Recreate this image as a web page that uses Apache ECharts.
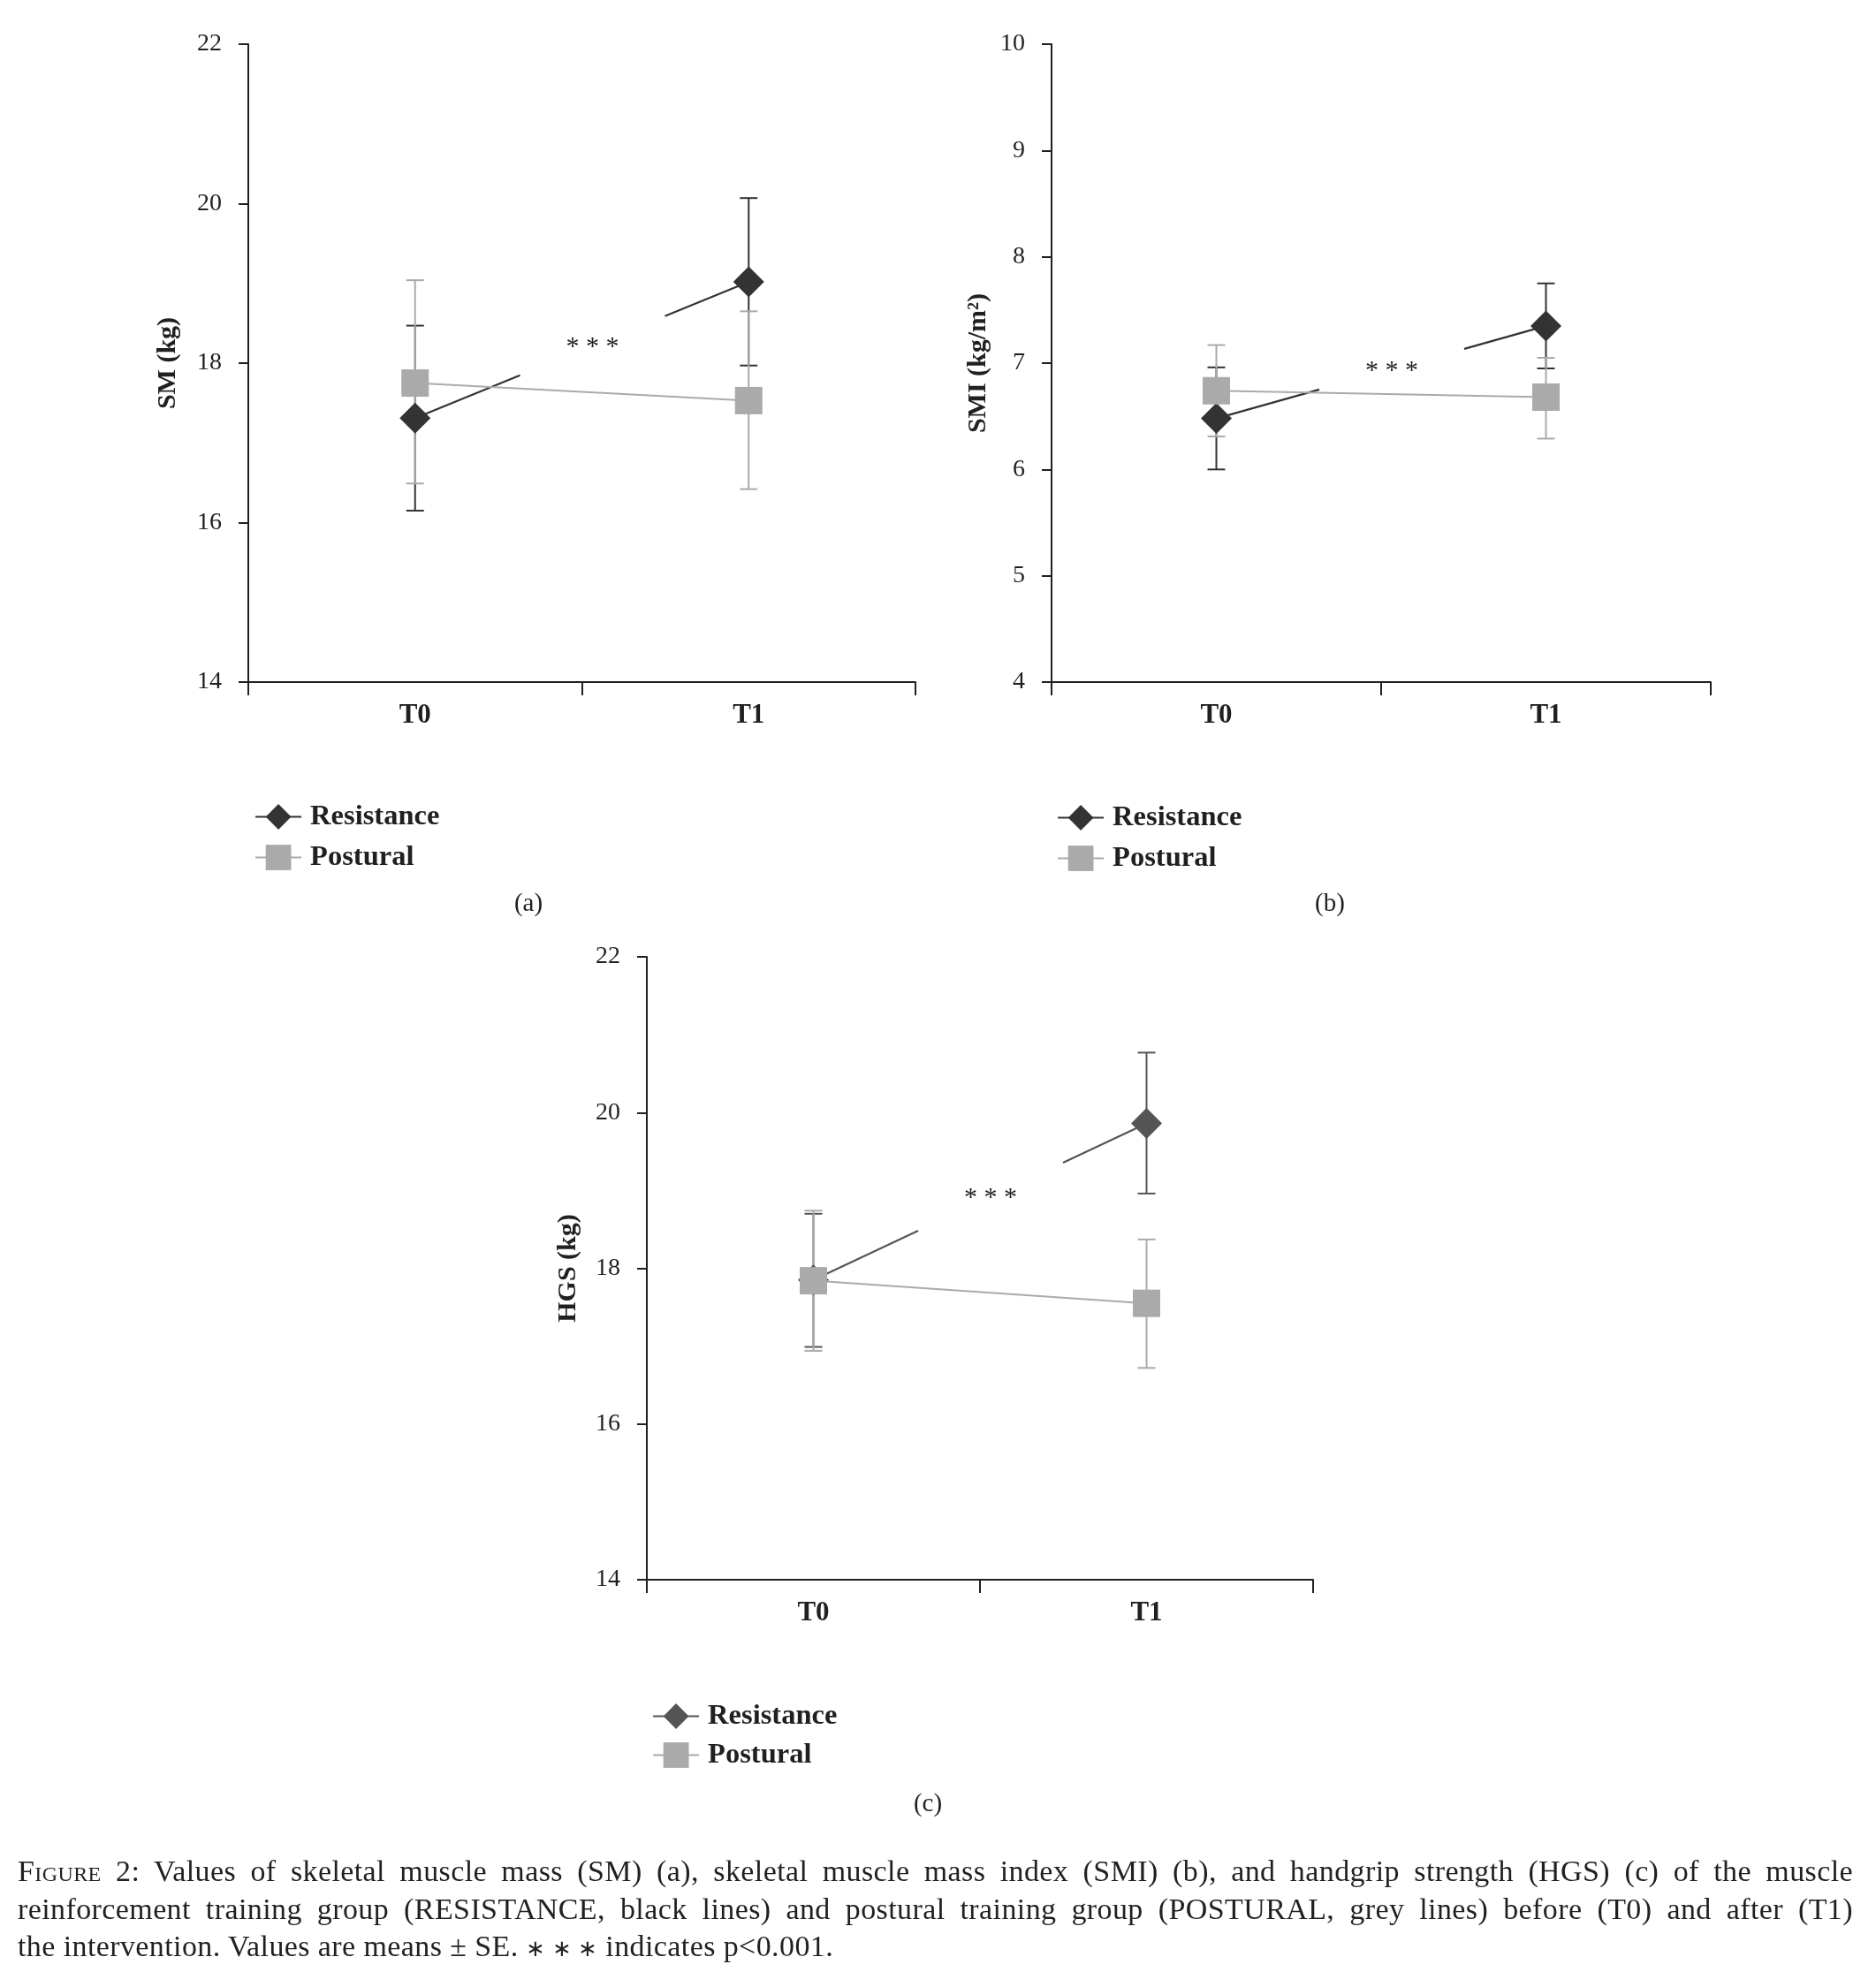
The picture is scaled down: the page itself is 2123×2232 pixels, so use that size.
<!DOCTYPE html>
<html><head><meta charset="utf-8">
<script src="https://cdn.jsdelivr.net/npm/echarts@6/dist/echarts.min.js"></script>
<style>
html,body{margin:0;padding:0;background:#fff;}
#chart{position:absolute;left:0;top:0;width:2123px;height:2232px;}
#caption{position:absolute;left:20px;top:2097px;width:2077px;font-family:"Liberation Serif",serif;font-size:34px;line-height:42.5px;color:#231f20;letter-spacing:0.4px;}
#caption .j{text-align:justify;text-align-last:justify;white-space:nowrap;}
#caption .sc{font-variant:small-caps;}
#caption .ast{font-size:26px;}
</style></head>
<body>
<div id="chart"></div>
<div id="caption">
<div class="j"><span class="sc">Figure</span> 2: Values of skeletal muscle mass (SM) (a), skeletal muscle mass index (SMI) (b), and handgrip strength (HGS) (c) of the muscle</div>
<div class="j">reinforcement training group (RESISTANCE, black lines) and postural training group (POSTURAL, grey lines) before (T0) and after (T1)</div>
<div>the intervention. Values are means ± SE. <span class="ast">∗ ∗ ∗</span> indicates p&lt;0.001.</div>
</div>
<script>
// ---- data ----
const categories = ['T0', 'T1'];
const seriesNames = ['Resistance', 'Postural'];

const smResistance = [17.31, 19.02];
const smResistanceLow = [16.15, 17.97];
const smResistanceHigh = [18.47, 20.07];
const smPostural = [17.75, 17.53];
const smPosturalLow = [16.49, 16.42];
const smPosturalHigh = [19.04, 18.65];

const smiResistance = [6.48, 7.35];
const smiResistanceLow = [6.00, 6.95];
const smiResistanceHigh = [6.96, 7.75];
const smiPostural = [6.74, 6.68];
const smiPosturalLow = [6.31, 6.29];
const smiPosturalHigh = [7.17, 7.05];

const hgsResistance = [17.85, 19.86];
const hgsResistanceLow = [16.99, 18.96];
const hgsResistanceHigh = [18.70, 20.77];
const hgsPostural = [17.84, 17.55];
const hgsPosturalLow = [16.94, 16.72];
const hgsPosturalHigh = [18.74, 18.37];

const smTicks = [14, 16, 18, 20, 22];
const smiTicks = [4, 5, 6, 7, 8, 9, 10];
const hgsTicks = [14, 16, 18, 20, 22];

const axisTitles = ['SM (kg)', 'SMI (kg/m²)', 'HGS (kg)'];
const panelLabels = ['(a)', '(b)', '(c)'];
const significance = '* * *';

// ---- styling ----
const FONT = '"Liberation Serif", "DejaVu Serif", serif';
const TXT = '#231f20';
const GREY = '#aaaaaa';

const panels = [
  { grid: { left: 281, top: 50, width: 755, height: 722 }, ticks: smTicks, nameGap: 76,
    res: smResistance, resLo: smResistanceLow, resHi: smResistanceHigh,
    pos: smPostural, posLo: smPosturalLow, posHi: smPosturalHigh,
    resColor: '#333333', legend: { left: 283, top: 903, gap: 13 }, label: [598, 1023] },
  { grid: { left: 1190, top: 50, width: 746, height: 722 }, ticks: smiTicks, nameGap: 68,
    res: smiResistance, resLo: smiResistanceLow, resHi: smiResistanceHigh,
    pos: smiPostural, posLo: smiPosturalLow, posHi: smiPosturalHigh,
    resColor: '#333333', legend: { left: 1191, top: 904, gap: 13 }, label: [1505, 1023] },
  { grid: { left: 732, top: 1083, width: 754, height: 705 }, ticks: hgsTicks, nameGap: 74,
    res: hgsResistance, resLo: hgsResistanceLow, resHi: hgsResistanceHigh,
    pos: hgsPostural, posLo: hgsPosturalLow, posHi: hgsPosturalHigh,
    resColor: '#555555', legend: { left: 733, top: 1921, gap: 11 }, label: [1050, 2042] }
];

function errorBarRenderer(color) {
  return function (params, api) {
    const x = api.value(0);
    const top = api.coord([x, api.value(2)]);
    const bot = api.coord([x, api.value(1)]);
    const hw = 10;
    const st = { stroke: color, lineWidth: 2 };
    return { type: 'group', children: [
      { type: 'line', shape: { x1: top[0], y1: top[1], x2: bot[0], y2: bot[1] }, style: st },
      { type: 'line', shape: { x1: top[0] - hw, y1: top[1], x2: top[0] + hw, y2: top[1] }, style: st },
      { type: 'line', shape: { x1: bot[0] - hw, y1: bot[1], x2: bot[0] + hw, y2: bot[1] }, style: st }
    ] };
  };
}

function gapLineRenderer(color) {
  return function (params, api) {
    const p0 = api.coord([api.value(0), api.value(1)]);
    const p1 = api.coord([api.value(2), api.value(3)]);
    const yAt = (x) => p0[1] + (p1[1] - p0[1]) * (x - p0[0]) / (p1[0] - p0[0]);
    const cx = (p0[0] + p1[0]) / 2 + 12;
    const g0 = cx - 82, g1 = cx + 82;
    const st = { stroke: color, lineWidth: 2.2 };
    return { type: 'group', children: [
      { type: 'line', shape: { x1: p0[0], y1: p0[1], x2: g0, y2: yAt(g0) }, style: st },
      { type: 'line', shape: { x1: g1, y1: yAt(g1), x2: p1[0], y2: p1[1] }, style: st },
      { type: 'text', x: cx, y: yAt(cx) + 2, style: { text: significance, fontFamily: FONT, fontSize: 30,
        fill: TXT, align: 'center', verticalAlign: 'middle' } }
    ] };
  };
}

const option = { animation: false, backgroundColor: '#ffffff',
  grid: [], xAxis: [], yAxis: [], series: [], legend: [], graphic: [] };

panels.forEach((p, i) => {
  option.grid.push(Object.assign({ containLabel: false }, p.grid));
  option.xAxis.push({
    gridIndex: i, type: 'category', data: categories, boundaryGap: true,
    axisLine: { show: true, onZero: false, lineStyle: { color: TXT, width: 2 } },
    axisTick: { show: true, alignWithLabel: false, length: 15, lineStyle: { color: TXT, width: 2 } },
    axisLabel: { fontFamily: FONT, fontSize: 31, fontWeight: 'bold', color: TXT, margin: 22 },
    splitLine: { show: false }
  });
  option.yAxis.push({
    gridIndex: i, type: 'value', min: p.ticks[0], max: p.ticks[p.ticks.length - 1],
    interval: p.ticks[1] - p.ticks[0],
    name: axisTitles[i], nameLocation: 'middle', nameGap: p.nameGap,
    nameTextStyle: { fontFamily: FONT, fontSize: 30, fontWeight: 'bold', color: TXT },
    axisLine: { show: true, lineStyle: { color: TXT, width: 2 } },
    axisTick: { show: true, length: 11, lineStyle: { color: TXT, width: 2 } },
    axisLabel: { fontFamily: FONT, fontSize: 28, color: TXT, margin: 30 },
    splitLine: { show: false }
  });
  const resErr = categories.map((c, k) => [k, p.resLo[k], p.resHi[k]]);
  const posErr = categories.map((c, k) => [k, p.posLo[k], p.posHi[k]]);
  option.series.push(
    { type: 'custom', name: 'Resistance SE', xAxisIndex: i, yAxisIndex: i, z: 1,
      renderItem: errorBarRenderer(p.resColor), data: resErr, encode: { x: 0, y: [1, 2] } },
    { type: 'custom', name: 'Postural SE', xAxisIndex: i, yAxisIndex: i, z: 2,
      renderItem: errorBarRenderer(GREY), data: posErr, encode: { x: 0, y: [1, 2] } },
    { type: 'custom', name: 'Resistance trend', xAxisIndex: i, yAxisIndex: i, z: 3,
      renderItem: gapLineRenderer(p.resColor), data: [[0, p.res[0], 1, p.res[1]]],
      encode: { x: [0, 2], y: [1, 3] } },
    { type: 'line', name: 'Resistance', xAxisIndex: i, yAxisIndex: i, z: 4,
      data: p.res, symbol: 'diamond', symbolSize: 35,
      itemStyle: { color: p.resColor }, lineStyle: { color: p.resColor, width: 2.2, opacity: 0 } },
    { type: 'line', name: 'Postural', xAxisIndex: i, yAxisIndex: i, z: 5,
      data: p.pos, symbol: 'rect', symbolSize: 31,
      itemStyle: { color: GREY }, lineStyle: { color: GREY, width: 2 } }
  );
  option.legend.push({
    orient: 'vertical', left: p.legend.left, top: p.legend.top, itemGap: p.legend.gap,
    itemWidth: 52, itemHeight: 36, selectedMode: false,
    textStyle: { fontFamily: FONT, fontSize: 32.5, fontWeight: 'bold', color: TXT, padding: [0, 0, 0, 5] },
    data: [
      { name: seriesNames[0], itemStyle: { color: p.resColor }, lineStyle: { color: p.resColor, width: 2.2, opacity: 1 } },
      { name: seriesNames[1], itemStyle: { color: GREY }, lineStyle: { color: GREY, width: 2, opacity: 1 } }
    ]
  });
  option.graphic.push({ type: 'text', x: p.label[0], y: p.label[1],
    style: { text: panelLabels[i], fontFamily: FONT, fontSize: 29, fill: TXT, align: 'center', verticalAlign: 'middle' } });
});

const chart = echarts.init(document.getElementById('chart'), null, { renderer: 'canvas' });
chart.setOption(option);
</script>
</body></html>
